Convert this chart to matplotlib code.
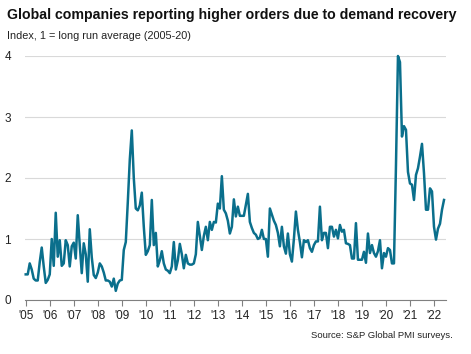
import numpy as np
import matplotlib.pyplot as plt

plt.rcParams['font.family'] = ['Liberation Sans', 'DejaVu Sans']

# monthly index values, Jan 2005 - Jun 2022
y2005 = [0.42, 0.42, 0.60, 0.50, 0.35, 0.32, 0.32, 0.62, 0.86, 0.55, 0.28, 0.33]
y2006 = [0.42, 1.00, 0.56, 1.43, 0.71, 0.98, 0.56, 0.60, 0.98, 0.90, 0.55, 0.88]
y2007 = [0.94, 0.68, 1.39, 0.90, 0.44, 0.93, 0.75, 0.30, 1.16, 0.70, 0.41, 0.36]
y2008 = [0.45, 0.60, 0.55, 0.45, 0.32, 0.32, 0.30, 0.22, 0.35, 0.15, 0.27, 0.32]
y2009 = [0.33, 0.82, 0.95, 1.60, 2.30, 2.78, 2.00, 1.50, 1.47, 1.55, 1.76, 1.20]
y2010 = [0.74, 0.80, 0.90, 1.64, 0.90, 1.10, 0.55, 0.65, 0.80, 0.60, 0.50, 0.48]
y2011 = [0.44, 0.55, 0.95, 0.50, 0.65, 0.92, 0.75, 0.52, 0.74, 0.60, 0.58, 0.58]
y2012 = [0.60, 0.75, 1.28, 1.05, 0.82, 1.05, 1.20, 0.98, 1.28, 1.15, 1.28, 1.27]
y2013 = [1.58, 1.50, 2.03, 1.48, 1.42, 1.30, 1.09, 1.20, 1.65, 1.37, 1.53, 1.38]
y2014 = [1.38, 1.38, 1.56, 1.74, 1.28, 1.18, 1.10, 1.07, 1.00, 1.02, 1.15, 1.00]
y2015 = [1.00, 0.71, 1.50, 1.40, 1.30, 1.23, 1.10, 0.88, 1.20, 0.88, 0.76, 1.09]
y2016 = [0.75, 0.63, 1.00, 1.45, 1.15, 0.95, 0.70, 0.98, 0.95, 0.98, 0.85, 0.79]
y2017 = [0.90, 0.96, 0.96, 1.53, 0.98, 1.10, 1.10, 0.85, 1.20, 1.20, 1.04, 1.15]
y2018 = [1.01, 1.23, 1.12, 1.15, 0.93, 0.92, 0.90, 0.68, 0.68, 1.26, 0.66, 0.66]
y2019 = [0.66, 0.79, 0.61, 1.09, 0.77, 0.90, 0.77, 0.71, 0.80, 0.98, 0.52, 0.77]
y2020 = [0.71, 0.85, 0.82, 0.60, 0.60, 2.20, 4.00, 3.90, 2.68, 2.85, 2.79, 2.10]
y2021 = [1.91, 1.89, 1.64, 2.05, 2.16, 2.35, 2.56, 2.08, 1.48, 1.48, 1.83, 1.78]
y2022 = [1.20, 0.99, 1.17, 1.25, 1.48, 1.64]

values = (y2005 + y2006 + y2007 + y2008 + y2009 + y2010 + y2011 + y2012 + y2013
          + y2014 + y2015 + y2016 + y2017 + y2018 + y2019 + y2020 + y2021 + y2022)
dates = 2005 + np.arange(len(values)) / 12.0

years = list(range(2005, 2023))
year_labels = ["'%02d" % (y % 100) for y in years]

fig = plt.figure(figsize=(4.71, 3.54), dpi=100)
ax = fig.add_axes([25/471, 1 - 300/354, 421/471, 244/354])

ax.plot(dates, values, color='#0a6f8c', linewidth=1.8, clip_on=False, zorder=3)

ax.set_xlim(2004.97, 2022.5)
ax.set_ylim(0, 4)
ax.set_yticks([0, 1, 2, 3, 4])
ax.set_xticks(years)
ax.set_xticklabels(year_labels)
ax.yaxis.grid(True, color='#d9d9d9', linewidth=0.8)
ax.set_axisbelow(True)
for s in ['top', 'right', 'left']:
    ax.spines[s].set_visible(False)
ax.spines['bottom'].set_color('#808080')
ax.spines['bottom'].set_linewidth(0.8)
ax.tick_params(axis='y', length=0, pad=10, labelsize=8.5, labelcolor='#222222')
ax.tick_params(axis='x', length=4, width=0.8, color='#808080', pad=3,
               labelsize=8.5, labelcolor='#222222')

fig.text(7/471, 1 - 15/354, 'Global companies reporting higher orders due to demand recovery',
         fontsize=10.2, fontweight='bold', color='#111111', va='center', ha='left')
fig.text(7/471, 1 - 36/354, 'Index, 1 = long run average (2005-20)',
         fontsize=7.8, color='#222222', va='center', ha='left')
fig.text(453/471, 1 - 336/354, 'Source: S&P Global PMI surveys.',
         fontsize=6.8, color='#222222', va='center', ha='right')

fig.savefig('out.png', dpi=100)
